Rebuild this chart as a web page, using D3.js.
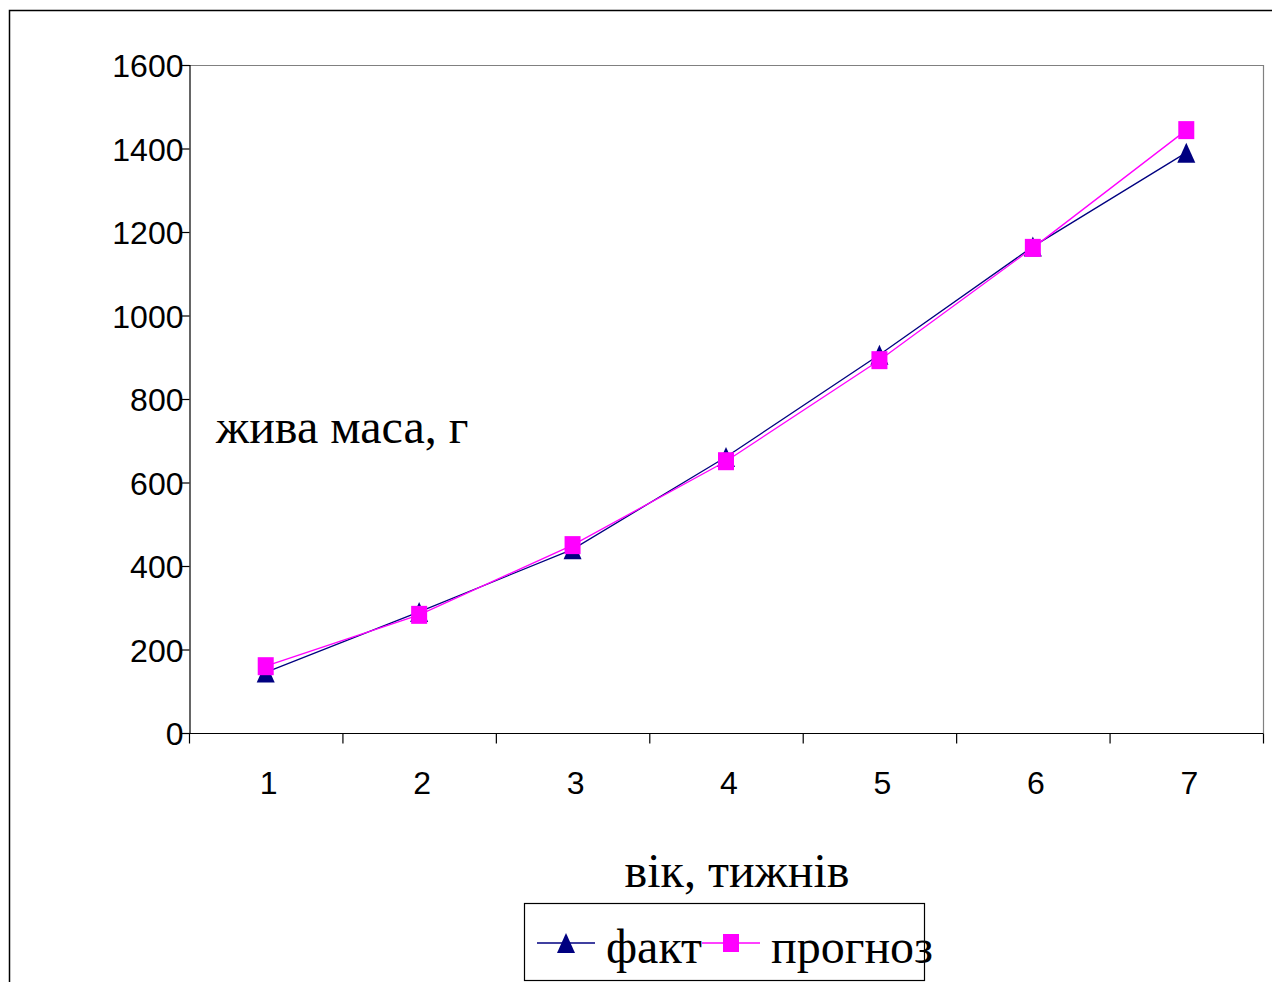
<!DOCTYPE html>
<html>
<head>
<meta charset="utf-8">
<script src="https://cdn.jsdelivr.net/npm/d3@7"></script>
<style>
  html, body { margin: 0; padding: 0; background: #fff; }
  svg { display: block; }
</style>
</head>
<body>
<svg id="chart" width="1272" height="982"></svg>
<script>
// Weekly live weight of the birds: measured vs. forecast
const weeks = [1, 2, 3, 4, 5, 6, 7];
const fact = [145, 290, 440, 661, 906, 1165, 1390];
const forecast = [160, 283, 450, 651, 893, 1162, 1444];
const yTicks = [0, 200, 400, 600, 800, 1000, 1200, 1400, 1600];
const seriesNames = ["факт", "прогноз"];
const yTitle = "жива маса, г";
const xTitle = "вік, тижнів";

const svg = d3.select("#chart");
const plot = { left: 189, top: 65, right: 1263, bottom: 733 };

// outer chart frame (runs off the right and bottom edges)
svg.append("path")
  .attr("d", `M9.5,${982 + 2} V10.5 H${1272 + 2}`)
  .attr("fill", "none").attr("stroke", "#000").attr("stroke-width", 1.5);

const x = d3.scaleBand().domain(weeks).range([plot.left, plot.right]).padding(0);
const y = d3.scaleLinear().domain([0, 1600]).range([plot.bottom, plot.top]);

// plot area border: top and right in grey
svg.append("path")
  .attr("d", `M${plot.left},${plot.top + 0.5} H${plot.right + 0.5} V${plot.bottom}`)
  .attr("fill", "none").attr("stroke", "#808080").attr("stroke-width", 1.2);

// y axis
const yAxis = svg.append("g")
  .attr("transform", `translate(${plot.left + 0.5},0)`)
  .call(d3.axisLeft(y).tickValues(yTicks).tickSize(8).tickPadding(0).tickFormat(d3.format("d")));
yAxis.select(".domain").attr("stroke", "#000").attr("stroke-width", 1.2);
yAxis.selectAll(".tick line").attr("stroke", "#000").attr("stroke-width", 1.2);
yAxis.selectAll(".tick text")
  .attr("font-family", "'Liberation Sans', Arial, sans-serif")
  .attr("font-size", 32).attr("fill", "#000")
  .attr("x", -6).attr("dy", "0.36em");

// x axis: ticks sit between categories
const xAxis = svg.append("g")
  .attr("transform", `translate(0,${plot.bottom + 0.5})`);
xAxis.append("line")
  .attr("x1", plot.left).attr("x2", plot.right + 0.5)
  .attr("stroke", "#000").attr("stroke-width", 1.2);
const bounds = weeks.map(w => x(w)).concat([x(weeks[weeks.length - 1]) + x.bandwidth()]);
xAxis.selectAll("line.tk").data(bounds).join("line")
  .attr("class", "tk")
  .attr("x1", d => d + 0.5).attr("x2", d => d + 0.5)
  .attr("y1", 0).attr("y2", 10)
  .attr("stroke", "#000").attr("stroke-width", 1.2);
xAxis.selectAll("text").data(weeks).join("text")
  .attr("x", d => x(d) + x.bandwidth() / 2 + 3)
  .attr("y", 60)
  .attr("text-anchor", "middle")
  .attr("font-family", "'Liberation Sans', Arial, sans-serif")
  .attr("font-size", 32).attr("fill", "#000")
  .text(d => d);

// axis titles
svg.append("text")
  .attr("x", 216).attr("y", 443)
  .attr("font-family", "'Liberation Serif', 'Times New Roman', serif")
  .attr("font-size", 48).attr("fill", "#000")
  .text(yTitle);
svg.append("text")
  .attr("x", 737).attr("y", 887)
  .attr("text-anchor", "middle")
  .attr("font-family", "'Liberation Serif', 'Times New Roman', serif")
  .attr("font-size", 48).attr("fill", "#000")
  .text(xTitle);

const cx = d => x(d) + x.bandwidth() / 2;
const line = d3.line().x(d => cx(d[0])).y(d => y(d[1]));

// marker shapes (centred on their bounding box)
const triPath = (w, h) => `M0,${-h / 2} L${w / 2},${h / 2} L${-w / 2},${h / 2} Z`;
const navy = "#000080", magenta = "#FF00FF";

function drawSeries(values, color, marker) {
  const pts = weeks.map((w, i) => [w, values[i]]);
  svg.append("path").datum(pts)
    .attr("d", line).attr("fill", "none")
    .attr("stroke", color).attr("stroke-width", 1.3);
  const g = svg.append("g");
  if (marker === "triangle") {
    g.selectAll("path").data(pts).join("path")
      .attr("d", triPath(18, 20))
      .attr("transform", d => `translate(${cx(d[0])},${y(d[1])})`)
      .attr("fill", color);
  } else {
    g.selectAll("rect").data(pts).join("rect")
      .attr("x", d => cx(d[0]) - 8).attr("y", d => y(d[1]) - 9)
      .attr("width", 16).attr("height", 18)
      .attr("fill", color);
  }
}
drawSeries(fact, navy, "triangle");
drawSeries(forecast, magenta, "square");

// legend
const lg = svg.append("g");
lg.append("rect")
  .attr("x", 524.5).attr("y", 903.5).attr("width", 400).attr("height", 77)
  .attr("fill", "#fff").attr("stroke", "#000").attr("stroke-width", 1.2);
const legendItems = [
  { name: seriesNames[0], color: navy, marker: "triangle", x0: 537, tx: 606 },
  { name: seriesNames[1], color: magenta, marker: "square", x0: 702, tx: 771 }
];
legendItems.forEach(it => {
  const ly = 943;
  lg.append("line")
    .attr("x1", it.x0).attr("x2", it.x0 + 58).attr("y1", ly).attr("y2", ly)
    .attr("stroke", it.color).attr("stroke-width", 1.3);
  if (it.marker === "triangle") {
    lg.append("path").attr("d", triPath(18, 20))
      .attr("transform", `translate(${it.x0 + 29},${ly})`).attr("fill", it.color);
  } else {
    lg.append("rect").attr("x", it.x0 + 21).attr("y", ly - 9)
      .attr("width", 16).attr("height", 18).attr("fill", it.color);
  }
  lg.append("text")
    .attr("x", it.tx).attr("y", 963)
    .attr("font-family", "'Liberation Serif', 'Times New Roman', serif")
    .attr("font-size", 48).attr("fill", "#000")
    .text(it.name);
});
</script>
</body>
</html>
